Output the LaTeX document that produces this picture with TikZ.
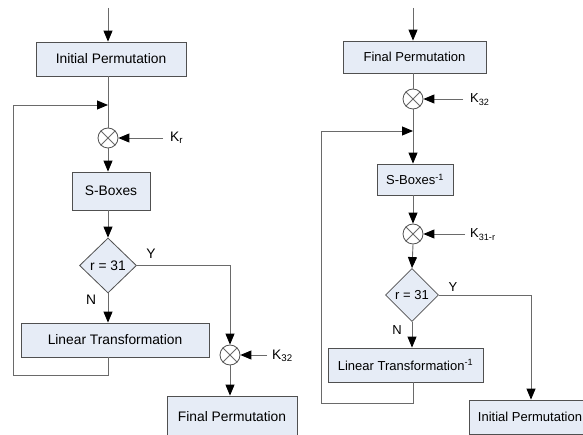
\documentclass[tikz,border=0pt]{standalone}
\usepackage{fontspec}
\setmainfont{Liberation Sans}
\usetikzlibrary{arrows.meta,shapes.geometric}
\definecolor{boxfill}{HTML}{E6ECF6}
\definecolor{linegray}{HTML}{6A6A6A}
\definecolor{edgegray}{HTML}{505050}
\begin{document}
\begin{tikzpicture}[x=1pt,y=-1pt,
  line/.style={draw=linegray, line width=0.9pt},
  arr/.style={line, -{Triangle[length=11pt,width=9pt,black]}},
  fl/.style={font=\fontsize{13.8}{16}\selectfont},
  fr/.style={font=\fontsize{13}{15}\selectfont},
  boxnode/.style={draw=edgegray, fill=boxfill, line width=0.8pt, inner sep=0pt, anchor=center},
  xorn/.style={circle, draw=edgegray, fill=white, line width=0.8pt, minimum size=20pt, inner sep=0pt},
  decn/.style={diamond, draw=edgegray, fill=boxfill, line width=0.8pt, inner sep=0pt},
  lbl/.style={inner sep=0pt}
]
\useasboundingbox (0,0) rectangle (583,435);
\clip (0,0) rectangle (583,435);
\fill[white] (0,0) rectangle (583,435);

% ---------------- left diagram ----------------
\coordinate (t1) at (108,8);
\node[boxnode, fl, minimum width=150pt, minimum height=34pt] (ip) at (111,59) {Initial Permutation};
\coordinate (j1) at (108,105);
\node[xorn] (c1) at (108,138) {};
\coordinate (k1) at (163,138);
\node[lbl, fl, anchor=west] (k1l) at (170,138) {K\textsubscript{r}};
\node[boxnode, fl, minimum width=78pt, minimum height=38pt] (sb) at (111,191) {S-Boxes};
\node[decn, fl, minimum width=57pt, minimum height=55pt] (d1) at (108,265.5) {r = 31};
\node[lbl, fl] (y1) at (151,254) {Y};
\node[lbl, fl] (n1) at (91,300) {N};
\node[boxnode, fl, minimum width=188pt, minimum height=34pt] (lt) at (115,340) {Linear Transformation};
\coordinate (lb1) at (13,375);
\node[xorn] (c2) at (230,355) {};
\coordinate (k2) at (267,355);
\node[lbl, fl, anchor=west] (k2l) at (272,355.5) {K\textsubscript{32}};
\node[boxnode, fl, minimum width=130pt, minimum height=42pt] (fp) at (232,417) {Final Permutation};

\draw[arr] (t1) -- (t1 |- ip.north);
\draw[line] (ip.south -| c1) -- (c1.north);
\draw (c1.north west) edge[line] (c1.south east) (c1.north east) edge[line] (c1.south west);
\draw[arr] (k1) -- (c1.east);
\draw[arr] (c1.south) -- (c1 |- sb.north);
\draw[arr] (sb.south -| d1) -- (d1.north);
\draw[arr] (d1.south) -- (d1.south |- lt.north);
\draw[arr] (lt.south -| j1) |- (lb1) |- (j1);
\draw[arr] (d1.east) -| (c2.north);
\draw (c2.north west) edge[line] (c2.south east) (c2.north east) edge[line] (c2.south west);
\draw[arr] (k2) -- (c2.east);
\draw[arr] (c2.south) -- (c2 |- fp.north);

% ---------------- right diagram ----------------
\coordinate (t2) at (413,8);
\node[boxnode, fr, minimum width=143pt, minimum height=32pt] (fp2) at (414.5,57) {Final Permutation};
\node[xorn] (c3) at (413,99) {};
\coordinate (k3) at (463,99);
\node[lbl, fr, anchor=west] (k3l) at (470,99.5) {K\textsubscript{32}};
\coordinate (j2) at (413,131);
\node[boxnode, fr, minimum width=76pt, minimum height=31pt] (sb2) at (415,179.5) {S-Boxes\textsuperscript{-1}};
\node[xorn] (c4) at (413,234) {};
\coordinate (k4) at (465,234);
\node[lbl, fr, anchor=west] (k4l) at (470,234.5) {K\textsubscript{31-r}};
\node[decn, fr, minimum width=53pt, minimum height=53pt] (d2) at (412,295) {r = 31};
\node[lbl, fr] (y2) at (453,287) {Y};
\node[lbl, fr] (n2) at (397,330) {N};
\node[boxnode, fr, minimum width=155pt, minimum height=34pt] (lt2) at (405.5,365) {Linear Transformation\textsuperscript{-1}};
\coordinate (lb2) at (321,403);
\coordinate (r2) at (531,295);
\node[boxnode, fr, minimum width=122pt, minimum height=34pt] (ip2) at (530,417) {Initial Permutation};

\draw[arr] (t2) -- (t2 |- fp2.north);
\draw[line] (fp2.south -| c3) -- (c3.north);
\draw (c3.north west) edge[line] (c3.south east) (c3.north east) edge[line] (c3.south west);
\draw[arr] (k3) -- (c3.east);
\draw[arr] (c3.south) -- (c3 |- sb2.north);
\draw[arr] (sb2.south -| c4) -- (c4.north);
\draw (c4.north west) edge[line] (c4.south east) (c4.north east) edge[line] (c4.south west);
\draw[arr] (k4) -- (c4.east);
\draw[arr] (c4.south) -- (d2.north);
\draw[arr] (d2.south) -- (d2.south |- lt2.north);
\draw[arr] (lt2.south -| j2) |- (lb2) |- (j2);
\draw[arr] (d2.east) -| (r2 |- ip2.north);
\end{tikzpicture}
\end{document}
